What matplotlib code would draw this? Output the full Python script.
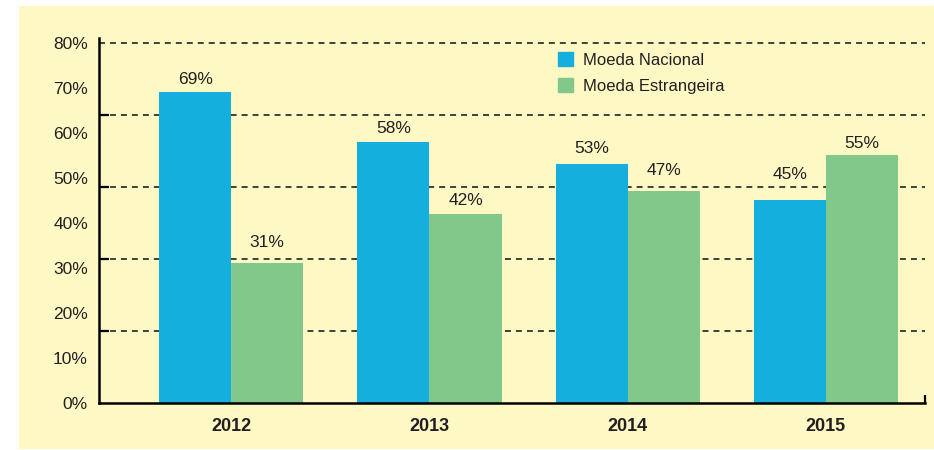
import matplotlib
matplotlib.use('Agg')
import matplotlib.pyplot as plt
import numpy as np
from matplotlib.patches import Rectangle, Patch

years = ['2012', '2013', '2014', '2015']
nacional = [69, 58, 53, 45]
estrangeira = [31, 42, 47, 55]
labels = ['Moeda Nacional', 'Moeda Estrangeira']
yticks = [0, 10, 20, 30, 40, 50, 60, 70, 80]
grid_levels = [16, 32, 48, 64, 80]
# label lift above bar top (placed by hand in the original to dodge gridlines)
nac_lift = [2.8, 2.9, 3.6, 5.7]
est_lift = [4.7, 2.9, 4.6, 2.6]

blue = '#14afdd'
green = '#82c88a'
txt = '#231f20'

plt.rcParams['font.family'] = ['Liberation Sans Narrow', 'Liberation Sans', 'DejaVu Sans']
plt.rcParams['lines.scale_dashes'] = False

fig = plt.figure(figsize=(9.34, 4.5), dpi=100)
bg = Rectangle((19/934, 1/450), 1, 443/450, transform=fig.transFigure,
               facecolor='#fef9c4', edgecolor='none', zorder=-10)
fig.add_artist(bg)
ax = fig.add_axes([99/934, 47/450, 826/934, 365/450])
ax.set_facecolor('none')
ax.set_zorder(1)

x = np.arange(len(years))
w = 0.364
ax.bar(x - w/2, nacional, w, color=blue, zorder=3)
ax.bar(x + w/2, estrangeira, w, color=green, zorder=3)

# value labels above the bars
for xi, v, d in zip(x, nacional, nac_lift):
    ax.text(xi - w/2, v + d, f'{v}%', ha='center', va='center', fontsize=12.5, color=txt)
for xi, v, d in zip(x, estrangeira, est_lift):
    ax.text(xi + w/2, v + d, f'{v}%', ha='center', va='center', fontsize=12.5, color=txt)

xmin, xmax = -0.667, 3.5
ax.set_xlim(xmin, xmax)
ax.set_ylim(0, 81.1)
ax.hlines(grid_levels, xmin, xmax, colors='#333333', linewidth=1.3,
          linestyles=[(0, (4.3, 3.6))], zorder=1)

ax.set_yticks(yticks)
ax.set_yticklabels([f'{t}%' for t in yticks], fontsize=12.5, color=txt)
ax.tick_params(axis='y', which='major', length=0, pad=8)
ax.set_yticks(grid_levels, minor=True)
ax.tick_params(axis='y', which='minor', direction='in', length=7, width=1.6, color='black')

ax.set_xticks(x)
ax.set_xticklabels(years, fontsize=13, fontweight='bold', color=txt)
ax.tick_params(axis='x', which='major', length=0, pad=11)
ax.set_xticks([xmax], minor=True)
ax.tick_params(axis='x', which='minor', direction='in', length=6, width=1.6, color='black')

for s in ['top', 'right']:
    ax.spines[s].set_visible(False)
for s in ['left', 'bottom']:
    ax.spines[s].set_linewidth(1.8)
    ax.spines[s].set_color('black')
ax.spines['bottom'].set_zorder(4)

handles = [Patch(color=blue), Patch(color=green)]
leg = ax.legend(handles, labels, loc='upper left', bbox_to_anchor=(0.545, 0.985),
                frameon=False, fontsize=12, handlelength=0.95, handleheight=0.95,
                handletextpad=0.55, labelspacing=0.6, borderpad=0)
for t in leg.get_texts():
    t.set_color(txt)

fig.savefig('out.png', dpi=100, facecolor='white')
